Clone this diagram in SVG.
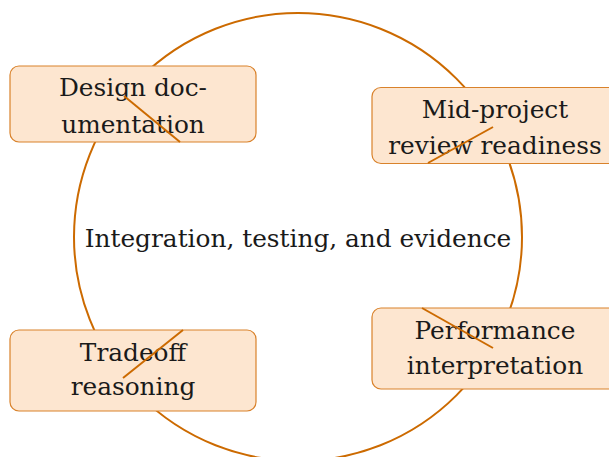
<svg xmlns="http://www.w3.org/2000/svg" width="609" height="457" viewBox="0 0 609 457">
<style>
.box{fill:#fde6d0;stroke:#d9822b;stroke-width:1.2}
.t{font-family:"DejaVu Serif","Liberation Serif",serif;font-size:24.8px;fill:#1a1a1a;text-anchor:middle}
.ring{fill:none;stroke:#cc6a00;stroke-width:2}
.edge{stroke:#cc6a00;stroke-width:2;fill:none}
</style>
<rect width="609" height="457" fill="#ffffff"/>
<g id="cycle">
<circle class="ring" cx="298" cy="237" r="224"/>
<text class="t" x="298" y="247">Integration, testing, and evidence</text>
</g>
<g id="node-design">
<rect class="box" x="10" y="66" width="246" height="76" rx="9"/>
<text class="t" x="133" y="96">Design doc-</text>
<text class="t" x="133" y="132.5">umentation</text>
</g>
<g id="node-midproject">
<rect class="box" x="372" y="87.5" width="246" height="76" rx="9"/>
<text class="t" x="495" y="117.5">Mid-project</text>
<text class="t" x="495" y="154">review readiness</text>
</g>
<g id="node-tradeoff">
<rect class="box" x="10" y="330" width="246" height="81" rx="9"/>
<text class="t" x="133" y="360.5">Tradeoff</text>
<text class="t" x="133" y="395">reasoning</text>
</g>
<g id="node-performance">
<rect class="box" x="372" y="308" width="246" height="81" rx="9"/>
<text class="t" x="495" y="339">Performance</text>
<text class="t" x="495" y="374">interpretation</text>
</g>
<g id="connectors">
<line class="edge" x1="124" y1="96" x2="180" y2="142"/>
<line class="edge" x1="493" y1="127" x2="428" y2="163"/>
<line class="edge" x1="183" y1="330" x2="123" y2="378"/>
<line class="edge" x1="422" y1="308" x2="493" y2="348"/>
</g>
</svg>
